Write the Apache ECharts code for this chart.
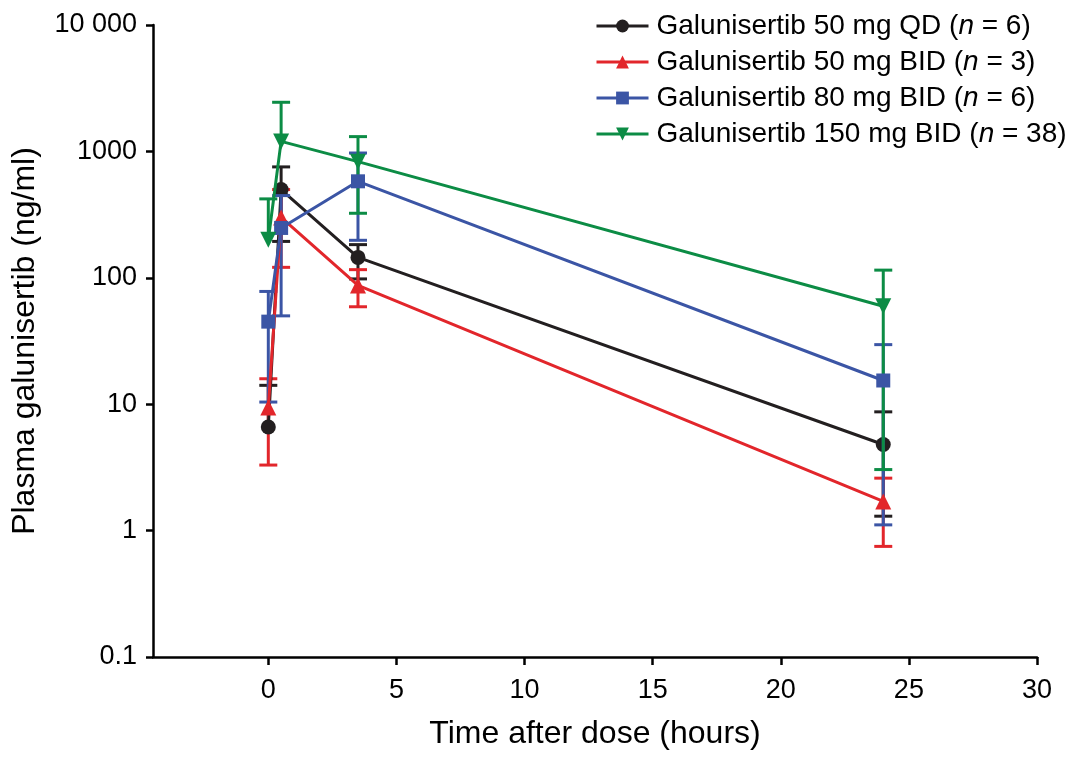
<!DOCTYPE html>
<html>
<head>
<meta charset="utf-8">
<script src="https://cdn.jsdelivr.net/npm/echarts@6/dist/echarts.min.js"></script>
<style>html,body{margin:0;padding:0;background:#fff}#c{width:1072px;height:760px}</style>
</head>
<body>
<div id="c"></div>
<script>
// ---- data ----
const time = [0, 0.5, 3.5, 24];
const seriesNames = ['Galunisertib 50 mg QD', 'Galunisertib 50 mg BID', 'Galunisertib 80 mg BID', 'Galunisertib 150 mg BID'];
const seriesN = [6, 3, 6, 38];
const qd50Mean = [6.6, 499, 145, 4.8];
const qd50Low = [null, 194, 98, 1.30];
const qd50High = [14.1, 754, 183, 8.7];
const bid50Mean = [9.4, 300, 87, 1.7];
const bid50Low = [3.3, 121, 59, 0.75];
const bid50High = [15.9, 499, 116, 2.6];
const bid80Mean = [45, 248, 580, 15.4];
const bid80Low = [10.4, 50, 198, 1.11];
const bid80High = [78, 447, 971, 29.6];
const bid150Mean = [200, 1200, 830, 59.5];
const bid150Low = [null, null, 324, 3.04];
const bid150High = [421, 2447, 1309, 115];
const xTicks = [0, 5, 10, 15, 20, 25, 30];
const yTicks = [0.1, 1, 10, 100, 1000, 10000];
const yTickLabels = ['0.1', '1', '10', '100', '1000', '10 000'];

const colors = ['#231f20', '#e2262b', '#3b55a5', '#0c8c45'];
const symbols = ['circle', 'triangle', 'rect', 'triangle'];
const rotates = [0, 0, 0, 180];
const symSizes = [15, 16, 14, 16];
const means = [qd50Mean, bid50Mean, bid80Mean, bid150Mean];
const lows = [qd50Low, bid50Low, bid80Low, bid150Low];
const highs = [qd50High, bid50High, bid80High, bid150High];

const FONT = '"Liberation Sans", Arial, sans-serif';
const series = [];
for (let s = 0; s < 4; s++) {
  const errData = time.map((t, i) => [t, means[s][i], lows[s][i] == null ? means[s][i] : lows[s][i], highs[s][i], lows[s][i] == null ? 0 : 1]);
  series.push({
    name: seriesNames[s] + ' err',
    type: 'custom',
    z: 2 + s,
    encode: { x: 0, y: 1 },
    data: errData,
    renderItem: (function (col) {
      return function (params, api) {
        const x = api.value(0);
        const pHi = api.coord([x, api.value(3)]);
        const pLo = api.coord([x, api.value(2)]);
        const hasLo = api.value(4) === 1;
        const cw = 9;
        const st = { stroke: col, lineWidth: 3 };
        const ch = [
          { type: 'line', shape: { x1: pLo[0], y1: pLo[1], x2: pHi[0], y2: pHi[1] }, style: st },
          { type: 'line', shape: { x1: pHi[0] - cw, y1: pHi[1], x2: pHi[0] + cw, y2: pHi[1] }, style: st }
        ];
        if (hasLo) ch.push({ type: 'line', shape: { x1: pLo[0] - cw, y1: pLo[1], x2: pLo[0] + cw, y2: pLo[1] }, style: st });
        return { type: 'group', children: ch };
      };
    })(colors[s])
  });
  series.push({
    name: seriesNames[s],
    type: 'line',
    z: 3 + s,
    data: time.map((t, i) => [t, means[s][i]]),
    symbol: symbols[s],
    symbolRotate: rotates[s],
    symbolSize: symSizes[s],
    showSymbol: true,
    lineStyle: { color: colors[s], width: 3 },
    itemStyle: { color: colors[s] },
    emphasis: { disabled: true },
    animation: false
  });
}

const chart = echarts.init(document.getElementById('c'), null, { renderer: 'canvas' });
chart.setOption({
  animation: false,
  textStyle: { fontFamily: FONT },
  grid: { left: 153, right: 35, top: 25, bottom: 103, containLabel: false },
  legend: {
    data: seriesNames,
    orient: 'vertical',
    left: 590,
    top: 7,
    itemWidth: 52,
    itemHeight: 16,
    itemGap: 8,
    lineStyle: { width: 3 },
    formatter: function (name) {
      const i = seriesNames.indexOf(name);
      return '{a|' + name + ' (}{i|n}{a| = ' + seriesN[i] + ')}';
    },
    textStyle: {
      fontFamily: FONT, fontSize: 28, color: '#000', padding: [0, 0, 0, 3],
      rich: {
        a: { fontFamily: FONT, fontSize: 28, color: '#000', lineHeight: 29 },
        i: { fontFamily: FONT, fontSize: 28, color: '#000', fontStyle: 'italic', lineHeight: 29 }
      }
    }
  },
  xAxis: {
    type: 'value',
    min: -4.5,
    max: 30,
    name: 'Time after dose (hours)',
    nameLocation: 'middle',
    nameGap: 61,
    nameTextStyle: { fontFamily: FONT, fontSize: 32, color: '#000' },
    axisLine: { show: true, onZero: false, lineStyle: { color: '#000', width: 2.5 } },
    axisTick: { show: true, length: 8, lineStyle: { color: '#000', width: 2.5 }, customValues: xTicks },
    axisLabel: { customValues: xTicks, fontFamily: FONT, fontSize: 27, color: '#000', margin: 20 },
    splitLine: { show: false }
  },
  yAxis: {
    type: 'log',
    logBase: 10,
    min: 0.1,
    max: 10000,
    name: 'Plasma galunisertib (ng/ml)',
    nameLocation: 'middle',
    nameGap: 112,
    nameTextStyle: { fontFamily: FONT, fontSize: 32, color: '#000' },
    axisLine: { show: true, onZero: false, lineStyle: { color: '#000', width: 2.5 } },
    axisTick: { show: true, length: 7, lineStyle: { color: '#000', width: 2.5 } },
    minorTick: { show: false },
    axisLabel: {
      fontFamily: FONT, fontSize: 27, color: '#000', margin: 16,
      formatter: function (v) {
        let best = 0, bd = Infinity;
        for (let i = 0; i < yTicks.length; i++) {
          const d = Math.abs(Math.log10(v) - Math.log10(yTicks[i]));
          if (d < bd) { bd = d; best = i; }
        }
        return yTickLabels[best];
      }
    },
    splitLine: { show: false }
  },
  series: series
});
</script>
</body>
</html>
